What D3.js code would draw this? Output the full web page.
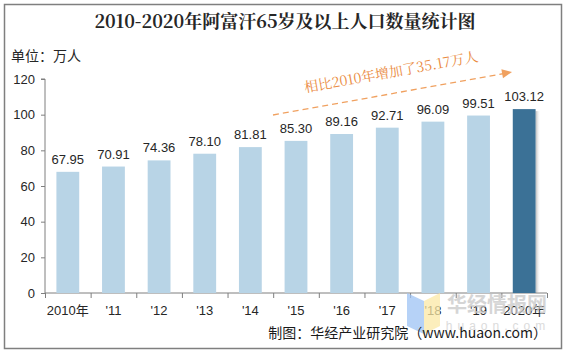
<!DOCTYPE html>
<html>
<head>
<meta charset="utf-8">
<script src="https://cdn.jsdelivr.net/npm/d3@7"></script>
<style>
  body { margin: 0; background: #fff; }
  svg text { font-family: Arial, "Liberation Sans", "Noto Sans CJK SC", sans-serif; }
</style>
</head>
<body>
<div id="chart"></div>
<script>
// Data
const years = ["2010年", "'11", "'12", "'13", "'14", "'15", "'16", "'17", "'18", "'19", "2020年"];
const values = [67.95, 70.91, 74.36, 78.10, 81.81, 85.30, 89.16, 92.71, 96.09, 99.51, 103.12];
const yTicks = [0, 20, 40, 60, 80, 100, 120];

const W = 570, H = 352;
const margin = {top: 79, right: 23, bottom: 59, left: 45};

const svg = d3.select("#chart").append("svg")
    .attr("width", W)
    .attr("height", H);

const defs = svg.append("defs");
const grad = defs.append("linearGradient").attr("id", "shadow");
grad.append("stop").attr("offset", "0%").attr("stop-color", "#888").attr("stop-opacity", 0.6);
grad.append("stop").attr("offset", "100%").attr("stop-color", "#fff").attr("stop-opacity", 0);

// frame
svg.append("rect")
    .attr("x", 4.5).attr("y", 4.5)
    .attr("width", 557).attr("height", 344)
    .attr("fill", "none")
    .attr("stroke", "#7f7f7f")
    .attr("stroke-width", 1.5);

// Title
svg.append("text")
    .attr("x", 285).attr("y", 28)
    .attr("text-anchor", "middle")
    .style("font-family", "'Noto Serif CJK SC', 'Noto Sans CJK SC', serif")
    .style("font-size", "18px")
    .style("font-weight", "bold")
    .attr("fill", "#262626")
    .text("2010-2020年阿富汗65岁及以上人口数量统计图");

svg.append("text")
    .attr("x", 11).attr("y", 61)
    .style("font-family", "'Noto Sans CJK SC', sans-serif")
    .style("font-size", "14px")
    .attr("fill", "#262626")
    .text("单位：万人");

// Scales
const x = d3.scaleBand()
    .domain(years)
    .range([margin.left, W - margin.right])
    .paddingInner(0.5)
    .paddingOuter(0.25);

const y = d3.scaleLinear()
    .domain([0, 120])
    .range([H - margin.bottom, margin.top]);

// Axes
const yAxis = d3.axisLeft(y).tickValues(yTicks).tickSize(4).tickPadding(6);
const gy = svg.append("g")
    .attr("transform", `translate(${margin.left},0)`)
    .call(yAxis);
gy.selectAll("path, line").attr("stroke", "#7f7f7f");
gy.select(".domain").attr("d", `M-4,${y(120)}H0V${y(0)}`);
gy.selectAll("text").style("font-size", "13px").attr("fill", "#262626");

const step = x.step();
const gx = svg.append("g")
    .attr("transform", `translate(0,${y(0)})`);
gx.append("line")
    .attr("x1", margin.left).attr("x2", W - margin.right)
    .attr("stroke", "#7f7f7f");
gx.selectAll(".tk")
    .data(d3.range(years.length + 1))
    .join("line")
    .attr("x1", i => margin.left + i * step + 0.5)
    .attr("x2", i => margin.left + i * step + 0.5)
    .attr("y1", 0).attr("y2", 5)
    .attr("stroke", "#7f7f7f");
gx.selectAll(".lbl")
    .data(years)
    .join("text")
    .attr("x", d => x(d) + x.bandwidth() / 2)
    .attr("y", 22)
    .attr("text-anchor", "middle")
    .style("font-size", "13px")
    .attr("fill", "#262626")
    .text(d => d);

// Bars
const last = years.length - 1;
svg.append("rect")
    .attr("x", x(years[last]) + x.bandwidth())
    .attr("y", y(values[last]) + 2)
    .attr("width", 5)
    .attr("height", y(0) - y(values[last]) - 2)
    .attr("fill", "url(#shadow)");

svg.selectAll(".bar")
    .data(values)
    .join("rect")
    .attr("class", "bar")
    .attr("x", (d, i) => x(years[i]))
    .attr("y", d => y(d))
    .attr("width", x.bandwidth())
    .attr("height", d => y(0) - y(d))
    .attr("fill", (d, i) => i === last ? "#3b7196" : "#b8d4e6");

svg.selectAll(".val")
    .data(values)
    .join("text")
    .attr("x", (d, i) => x(years[i]) + x.bandwidth() / 2)
    .attr("y", d => y(d) - 8)
    .attr("text-anchor", "middle")
    .style("font-size", "13px")
    .attr("fill", "#262626")
    .text(d => d.toFixed(2));

// Annotation arrow
const ax1 = 273, ay1 = 115, ax2 = 512, ay2 = 72;
const ang = Math.atan2(ay2 - ay1, ax2 - ax1) * 180 / Math.PI;
svg.append("line")
    .attr("x1", ax1).attr("y1", ay1)
    .attr("x2", ax2 - 8).attr("y2", ay2 + 1.5)
    .attr("stroke", "#f0a160")
    .attr("stroke-width", 1.3)
    .attr("stroke-dasharray", "6,4");
svg.append("path")
    .attr("d", "M0,0L-10,-4.5L-10,4.5Z")
    .attr("transform", `translate(${ax2},${ay2}) rotate(${ang})`)
    .attr("fill", "#f0a160");
svg.append("text")
    .attr("transform", `translate(392,77) rotate(${ang})`)
    .attr("text-anchor", "middle")
    .style("font-family", "'Noto Serif CJK SC', 'Noto Sans CJK SC', serif")
    .style("font-size", "14px")
    .attr("fill", "#ea8a3e")
    .text("相比2010年增加了35.17万人");

// Watermark
const wm = svg.append("g").attr("opacity", 0.75);
wm.append("path").attr("d", "M407,293L424,301L424,334L407,326Z").attr("fill", "#9ec3f5");
wm.append("path").attr("d", "M424,301L440,293L440,326L424,334Z").attr("fill", "#fbe9a6");
wm.append("text")
    .attr("x", 497).attr("y", 312)
    .attr("text-anchor", "middle")
    .style("font-family", "'Noto Sans CJK SC', sans-serif")
    .style("font-size", "20px")
    .style("font-weight", "bold")
    .attr("fill", "#c8c8c8")
    .text("华经情报网");
wm.append("text")
    .attr("x", 498).attr("y", 330)
    .attr("text-anchor", "middle")
    .style("font-size", "12px")
    .style("letter-spacing", "5px")
    .attr("fill", "#d0d0d0")
    .text("huaon.com");

// Source
svg.append("text")
    .attr("x", 547).attr("y", 338)
    .attr("text-anchor", "end")
    .style("font-family", "'Noto Sans CJK SC', sans-serif")
    .style("font-size", "14px")
    .attr("fill", "#1a1a1a")
    .text("制图：华经产业研究院（www.huaon.com）");
</script>
</body>
</html>
